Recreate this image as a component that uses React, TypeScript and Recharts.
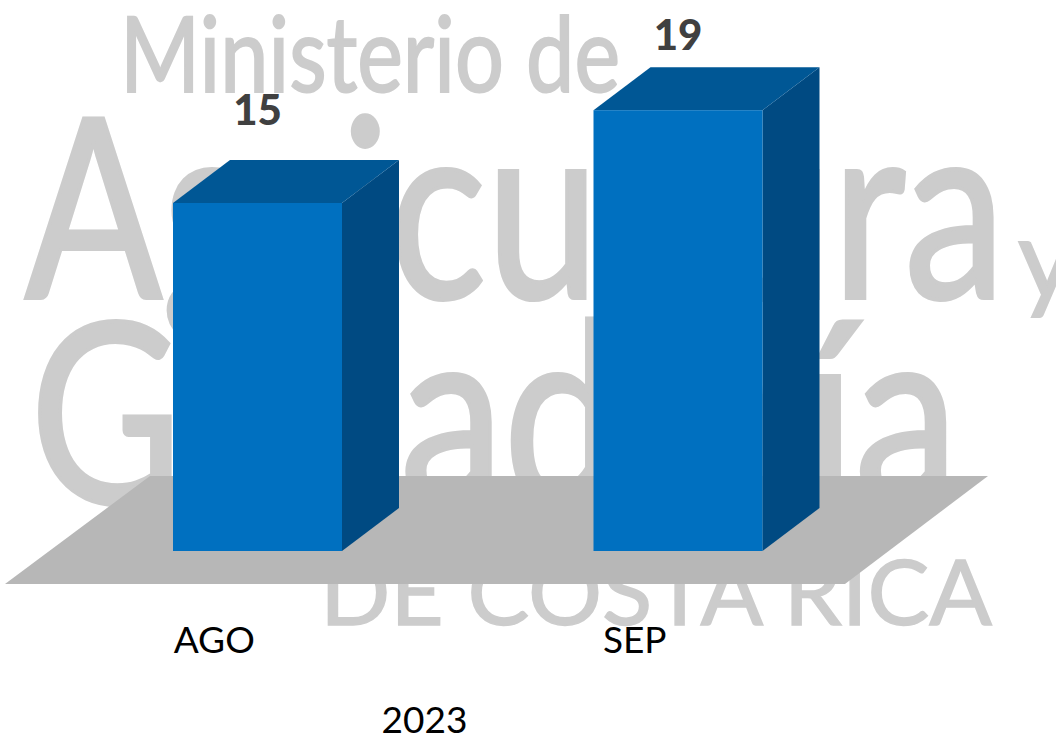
import React from "react";
import { BarChart, Bar, XAxis, YAxis, LabelList } from "recharts";

const months = ["AGO", "SEP"];
const counts = [15, 19];
const labelLifts = [78, 60];
const yearLabel = "2023";
const rows = months.map((month, i) => ({ month, count: counts[i] }));

const DEPTH_X = 57;
const DEPTH_Y = 43;
const FONT = "Lato, 'Open Sans', sans-serif";

const Box = (props: any) => {
  const { x, y, width, height } = props;
  const r = x + width;
  const b = y + height;
  return (
    <g>
      <polygon points={`${r},${y} ${r + DEPTH_X},${y - DEPTH_Y} ${r + DEPTH_X},${b - DEPTH_Y} ${r},${b}`} fill="#004A82" />
      <polygon points={`${x},${y} ${x + DEPTH_X},${y - DEPTH_Y} ${r + DEPTH_X},${y - DEPTH_Y} ${r},${y}`} fill="#005795" />
      <rect x={x} y={y} width={width} height={height} fill="#0070C0" />
    </g>
  );
};

const ValueLabel = (props: any) => {
  const { x, y, width, value, index } = props;
  return (
    <text x={x + width / 2} y={y - labelLifts[index]} textAnchor="middle" fontFamily={FONT} fontWeight={900} fontSize={42} fill="#404040">
      {value}
    </text>
  );
};

const MonthTick = (props: any) => {
  const { x, y, payload } = props;
  return (
    <text x={x - 43} y={y + 94} textAnchor="middle" fontFamily={FONT} fontSize={37} fill="#000">
      {payload.value}
    </text>
  );
};

const Backdrop = () => (
  <svg width={1056} height={739} style={{ position: "absolute", left: 0, top: 0 }}>
    <g fill="#CCCCCC" stroke="#CCCCCC" fontFamily={FONT}>
      <text x={120} y={92} fontSize={104} strokeWidth={2} textLength={500} lengthAdjust="spacingAndGlyphs">Ministerio de</text>
      <text x={25} y={298} fontSize={250} strokeWidth={4} textLength={980} lengthAdjust="spacingAndGlyphs">Agricultura</text>
      <text x={1018} y={298} fontSize={110} strokeWidth={2}>y</text>
      <text x={30} y={503} fontSize={250} strokeWidth={4} textLength={928} lengthAdjust="spacingAndGlyphs">Ganadería</text>
      <text x={320} y={625} fontSize={92} strokeWidth={1.5} textLength={672} lengthAdjust="spacingAndGlyphs">DE COSTA RICA</text>
    </g>
    <polygon points="5,584 150,476 988,476 845,584" fill="#B7B7B7" />
  </svg>
);

export default function App() {
  return (
    <div style={{ position: "absolute", left: 0, top: 0, width: 1056, height: 739, overflow: "hidden", background: "#fff" }}>
      <Backdrop />
      <div style={{ position: "absolute", left: 0, top: 0 }}>
        <BarChart
          width={1056}
          height={739}
          data={rows}
          margin={{ top: 87, right: 168, bottom: 0, left: 47 }}
          barCategoryGap={126}
        >
          <XAxis
            dataKey="month"
            axisLine={false}
            tickLine={false}
            tick={<MonthTick />}
            height={188}
            label={{ value: yearLabel, position: "insideBottom", dx: -43, dy: -1, fontFamily: FONT, fontSize: 37, fill: "#000" } as any}
          />
          <YAxis hide domain={[0, 20]} />
          <Bar dataKey="count" isAnimationActive={false} shape={<Box />}>
            <LabelList dataKey="count" content={<ValueLabel />} />
          </Bar>
        </BarChart>
      </div>
    </div>
  );
}
